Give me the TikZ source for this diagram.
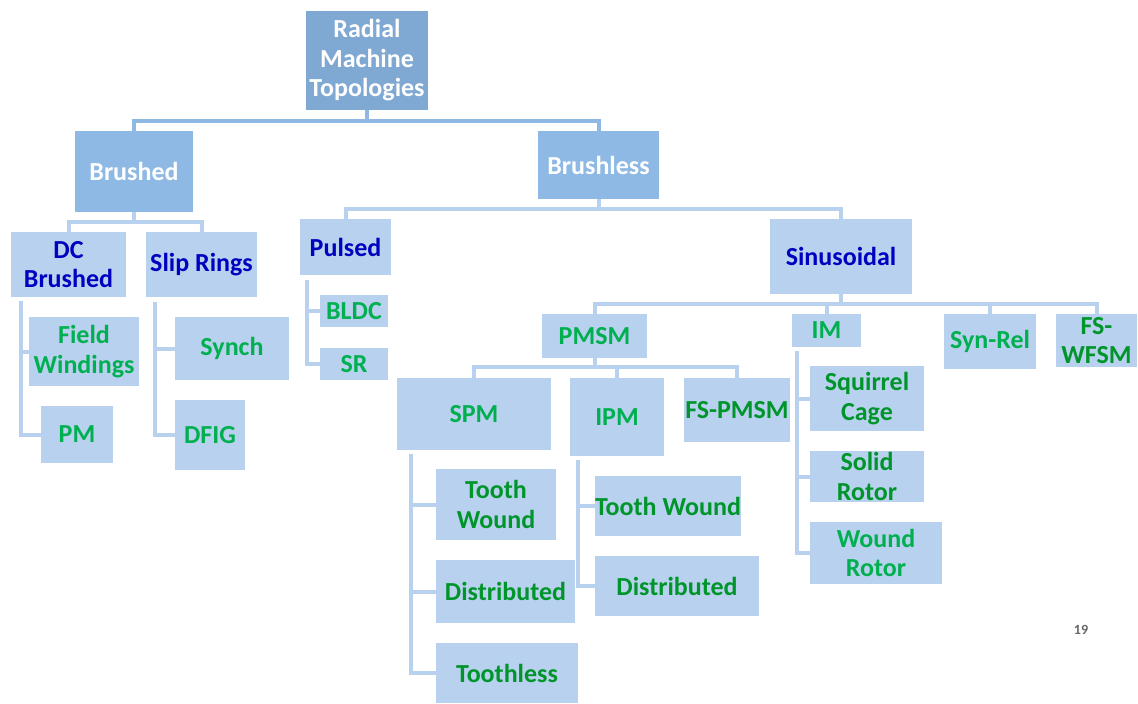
\documentclass[tikz,border=0pt]{standalone}
\usepackage{fontspec}
\setmainfont{Carlito}
\usetikzlibrary{positioning,calc}
\definecolor{rootfill}{HTML}{7FA8D3}
\definecolor{midfill}{HTML}{8DB9E4}
\definecolor{leaffill}{HTML}{B8D1EE}
\definecolor{bluetext}{HTML}{0000C0}
\definecolor{leafgreen}{HTML}{00B050}
\definecolor{deepgreen}{HTML}{00952A}
\begin{document}
\begin{tikzpicture}
[x=0.02cm,y=-0.02cm,
every node/.style={inner sep=0pt,align=center,font=\fontsize{14.8}{16.8}\selectfont\bfseries},
rootbox/.style={fill=rootfill,text=white},
midbox/.style={fill=midfill,text=white},
groupbox/.style={fill=leaffill,text=bluetext},
leafbox/.style={fill=leaffill,text=leafgreen},
deepbox/.style={fill=leaffill,text=deepgreen},
link/.style={draw=leaffill,line width=0.08cm},
toplink/.style={draw=midfill,line width=0.08cm}]
\useasboundingbox (0,0) rectangle (1138,703);
\node[rootbox,minimum width=2.44cm,minimum height=1.98cm] (root) at (367,60.5) {Radial\\Machine\\Topologies};
\node[midbox,minimum width=2.36cm,minimum height=1.62cm] (brushed) at (134,171.5) {Brushed};
\node[midbox,minimum width=2.42cm,minimum height=1.36cm] (brushless) at (598.5,165) {Brushless};
\node[groupbox,minimum width=2.30cm,minimum height=1.30cm] (dcb) at (68.5,264.5) {DC\\Brushed};
\node[groupbox,minimum width=2.22cm,minimum height=1.30cm] (slip) at (201.5,264.5) {Slip Rings};
\node[leafbox,minimum width=2.20cm,minimum height=1.38cm] (fw) at (84,351.5) {Field\\Windings};
\node[leafbox,minimum width=1.44cm,minimum height=1.14cm] (pm) at (77,434.5) {PM};
\node[leafbox,minimum width=2.28cm,minimum height=1.26cm] (synch) at (232,348.5) {Synch};
\node[leafbox,minimum width=1.40cm,minimum height=1.40cm] (dfig) at (210,435) {DFIG};
\node[groupbox,minimum width=1.82cm,minimum height=1.12cm] (pulsed) at (345.5,247) {Pulsed};
\node[leafbox,minimum width=1.36cm,minimum height=0.64cm] (bldc) at (354,311) {BLDC};
\node[leafbox,minimum width=1.36cm,minimum height=0.64cm] (sr) at (354,364) {SR};
\node[groupbox,minimum width=2.84cm,minimum height=1.50cm] (sinus) at (841,256.5) {Sinusoidal};
\node[leafbox,minimum width=2.10cm,minimum height=0.88cm] (pmsm) at (594.5,336) {PMSM};
\node[leafbox,minimum width=1.38cm,minimum height=0.66cm] (im) at (826.5,330.5) {IM};
\node[leafbox,minimum width=1.84cm,minimum height=1.10cm] (synrel) at (990,341.5) {Syn-Rel};
\node[deepbox,minimum width=1.62cm,minimum height=1.06cm] (fswfsm) at (1096.5,340.5) {FS-\\WFSM};
\node[leafbox,minimum width=3.08cm,minimum height=1.44cm] (spm) at (474,414) {SPM};
\node[leafbox,minimum width=1.88cm,minimum height=1.56cm] (ipm) at (617,417) {IPM};
\node[deepbox,minimum width=2.12cm,minimum height=1.28cm] (fspmsm) at (737,410) {FS-PMSM};
\node[deepbox,minimum width=2.40cm,minimum height=1.42cm] (stw) at (496,504.5) {Tooth\\Wound};
\node[deepbox,minimum width=2.78cm,minimum height=1.26cm] (sdist) at (505.5,591.5) {Distributed};
\node[deepbox,minimum width=2.84cm,minimum height=1.20cm] (sless) at (507,673) {Toothless};
\node[deepbox,minimum width=2.92cm,minimum height=1.20cm] (itw) at (668,506) {Tooth Wound};
\node[deepbox,minimum width=3.28cm,minimum height=1.20cm] (idist) at (677,586) {Distributed};
\node[deepbox,minimum width=2.28cm,minimum height=1.30cm] (sc) at (867,398.5) {Squirrel\\Cage};
\node[deepbox,minimum width=2.28cm,minimum height=1.02cm] (solid) at (867,476.5) {Solid\\Rotor};
\node[leafbox,minimum width=2.64cm,minimum height=1.24cm] (wound) at (876,553) {Wound\\Rotor};
\node[text=black!60,font=\fontsize{8}{9}\selectfont\bfseries] (page) at (1081,630) {19};
\draw[toplink] (root.south) -- ++(0,11);
\draw[toplink] (brushed.north) -- ++(0,-10) -| (brushless.north);
\draw[link] (brushed.south) -- ++(0,10);
\draw[link] (dcb.north) -- ++(0,-10) -| (slip.north);
\draw[link] (brushless.south) -- ++(0,10);
\draw[link] (pulsed.north) -- ++(0,-10) -| (sinus.north);
\draw[link] (sinus.south) -- ++(0,10);
\draw[link] (pmsm.north) -- ++(0,-10) -| (fswfsm.north);
\draw[link] (im.north) -- ++(0,-10);
\draw[link] (synrel.north) -- ++(0,-10);
\draw[link] (pmsm.south) -- ++(0,9);
\draw[link] (spm.north) -- ++(0,-11) -| (fspmsm.north);
\draw[link] (ipm.north) -- ++(0,-11);
\coordinate (dcbrail) at ($(dcb.south west)+(10,4)$);
\draw[link] (dcbrail) |- (fw.west);
\draw[link] (dcbrail) |- (pm.west);
\coordinate (sliprail) at ($(slip.south west)+(9,5)$);
\draw[link] (sliprail) |- (synch.west);
\draw[link] (sliprail) |- (dfig.west);
\coordinate (pulsedrail) at ($(pulsed.south west)+(7,5)$);
\draw[link] (pulsedrail) |- (bldc.west);
\draw[link] (pulsedrail) |- (sr.west);
\coordinate (spmrail) at ($(spm.south west)+(14,4)$);
\draw[link] (spmrail) |- (stw.west);
\draw[link] (spmrail) |- (sdist.west);
\draw[link] (spmrail) |- (sless.west);
\coordinate (ipmrail) at ($(ipm.south west)+(8,4)$);
\draw[link] (ipmrail) |- (itw.west);
\draw[link] (ipmrail) |- (idist.west);
\coordinate (imrail) at ($(im.south west)+(5,4)$);
\draw[link] (imrail) |- (sc.west);
\draw[link] (imrail) |- (solid.west);
\draw[link] (imrail) |- (wound.west);
\end{tikzpicture}
\end{document}
